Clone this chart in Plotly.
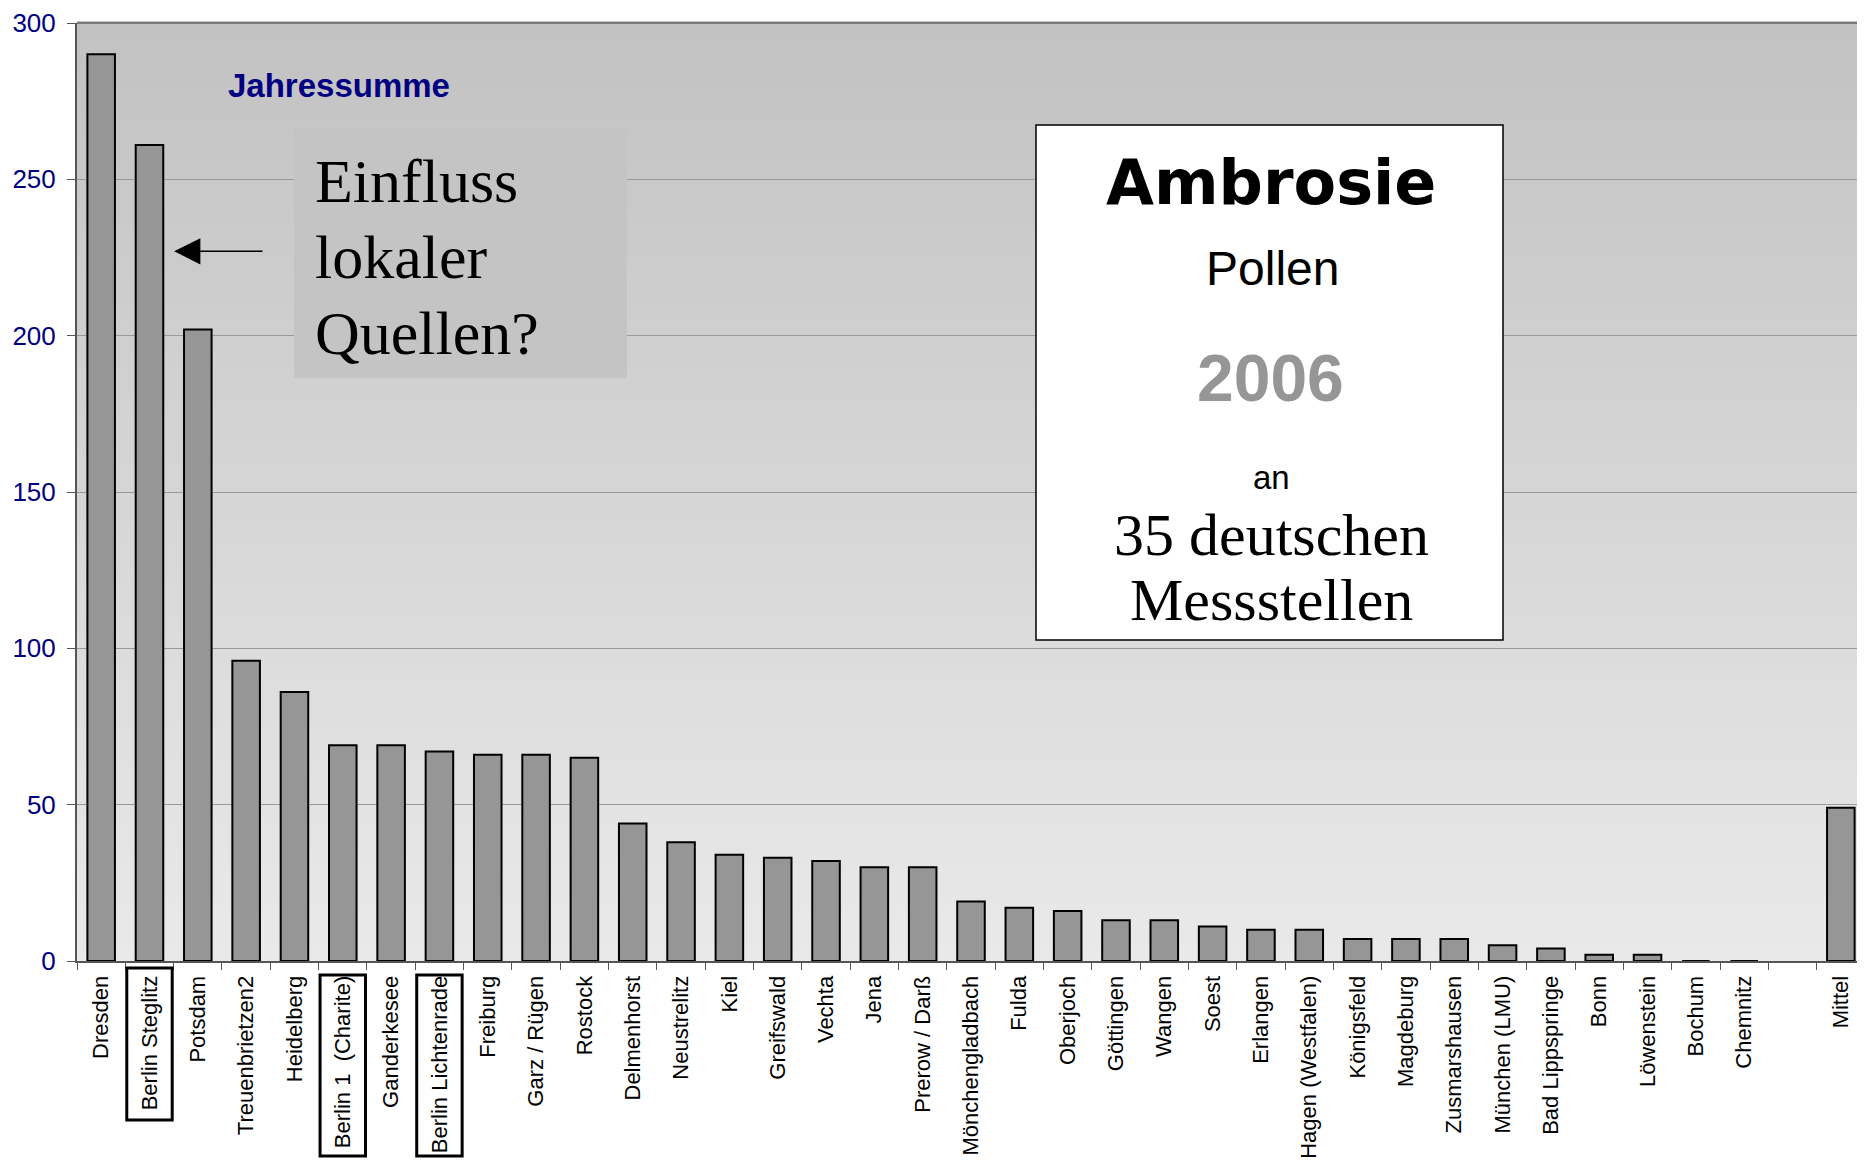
import plotly.graph_objects as go

# ── Data: annual Ambrosia pollen sums 2006 per station ──────────────
stations = [
    "Dresden", "Berlin Steglitz", "Potsdam", "Treuenbrietzen2", "Heidelberg",
    "Berlin 1\u00a0\u00a0(Charite)", "Ganderkesee", "Berlin Lichtenrade", "Freiburg",
    "Garz / Rügen", "Rostock", "Delmenhorst", "Neustrelitz", "Kiel", "Greifswald",
    "Vechta", "Jena", "Prerow / Darß", "Mönchengladbach", "Fulda", "Oberjoch",
    "Göttingen", "Wangen", "Soest", "Erlangen", "Hagen (Westfalen)", "Königsfeld",
    "Magdeburg", "Zusmarshausen", "München (LMU)", "Bad Lippspringe", "Bonn",
    "Löwenstein", "Bochum", "Chemnitz", " ", "Mittel",
]
pollen_sum = [
    290, 261, 202, 96, 86,
    69, 69, 67, 66,
    66, 65, 44, 38, 34, 33,
    32, 30, 30, 19, 17, 16,
    13, 13, 11, 10, 10, 7,
    7, 7, 5, 4, 2,
    2, 0, 0, None, 49,
]
highlighted = ["Berlin Steglitz", "Berlin 1\u00a0\u00a0(Charite)", "Berlin Lichtenrade"]
y_ticks = [0, 50, 100, 150, 200, 250, 300]

NAVY = "#000080"
BAR_GREY = "#969696"
ARIAL = "Arial, Liberation Sans"
SERIF = "Times New Roman, Liberation Serif"

# plot area in page pixels (page has an 8px body margin)
PX0, PW, PY0, PH = 77, 1788, 23, 938


def px(x):
    return (x - PX0) / PW


def py(y):
    return (PY0 + PH - y) / PH


fig = go.Figure()
fig.add_trace(go.Bar(
    x=stations,
    y=pollen_sum,
    marker=dict(color=BAR_GREY, line=dict(color="black", width=2)),
    showlegend=False,
))

shapes = []

# background gradient (darker grey at top -> light grey at bottom)
n_bands = 60
top_rgb, bot_rgb = (194, 194, 194), (233, 233, 233)
for i in range(n_bands):
    t = i / (n_bands - 1)
    c = [round(bot_rgb[k] + (top_rgb[k] - bot_rgb[k]) * t) for k in range(3)]
    shapes.append(dict(
        type="rect", xref="paper", yref="paper", layer="below",
        x0=0, x1=1, y0=i / n_bands, y1=(i + 1) / n_bands + 0.002,
        fillcolor=f"rgb({c[0]},{c[1]},{c[2]})", line=dict(width=0),
    ))

# top border of the plot area
shapes.append(dict(type="line", xref="paper", yref="paper", layer="above",
                   x0=0, x1=1, y0=1, y1=1, line=dict(color="#7a7a7a", width=2)))

# grey note box
shapes.append(dict(
    type="rect", xref="paper", yref="paper", layer="above",
    x0=px(294), x1=px(627), y0=py(378), y1=py(128),
    fillcolor="#c4c4c4", line=dict(width=0),
))

# white title box
shapes.append(dict(
    type="rect", xref="paper", yref="paper", layer="above",
    x0=px(1036), x1=px(1503), y0=py(640), y1=py(125),
    fillcolor="white", line=dict(color="black", width=1.5),
))

# frames round the Berlin labels
for name in highlighted:
    i = stations.index(name)
    top, bottom = (968, 1120) if name == "Berlin Steglitz" else (975, 1156)
    shapes.append(dict(
        type="rect", xref="x", yref="paper", layer="above",
        x0=i - 0.47, x1=i + 0.47, y0=py(bottom), y1=py(top),
        fillcolor="rgba(0,0,0,0)", line=dict(color="black", width=3),
    ))


def label(text, x, y, family, size, color="black", xanchor="center"):
    return dict(text=text, xref="paper", yref="paper", x=px(x), y=py(y),
                xanchor=xanchor, yanchor="middle", showarrow=False,
                font=dict(family=family, size=size, color=color))


annotations = [
    label("<b>Jahressumme</b>", 339, 86, ARIAL, 33, NAVY),
    label("Einfluss", 313, 181, SERIF, 62, xanchor="left"),
    label("lokaler", 313, 257, SERIF, 62, xanchor="left"),
    label("Quellen?", 313, 333, SERIF, 62, xanchor="left"),
    dict(text="", x=1.51, y=227, ax=3.37, ay=227, axref="x", ayref="y",
         xref="x", yref="y", showarrow=True, arrowhead=2, arrowsize=3.5,
         arrowwidth=1.5, arrowcolor="black"),
    label("<b>Ambrosie</b>", 1271, 182, "Comic Sans MS, DejaVu Sans", 62),
    label("Pollen", 1272, 269, ARIAL, 48),
    label("<b>2006</b>", 1270, 378, ARIAL, 66, BAR_GREY),
    label("an", 1271, 478, ARIAL, 33),
    label("35 deutschen", 1271, 535, "Georgia, Liberation Serif", 60),
    label("Messstellen", 1271, 600, "Georgia, Liberation Serif", 60),
]

fig.update_layout(
    width=1857,
    height=1152,
    margin=dict(l=69, r=0, t=15, b=199, autoexpand=False),
    paper_bgcolor="white",
    plot_bgcolor="#d6d6d6",
    bargap=0.43,
    shapes=shapes,
    annotations=annotations,
    xaxis=dict(
        categoryorder="array", categoryarray=stations,
        range=[-0.5, len(stations) - 0.5], automargin=False,
        tickangle=-90, ticks="outside", tickson="boundaries", ticklen=7,
        tickcolor="#555", showline=True, linecolor="#555", linewidth=2,
        showgrid=False, ticklabelstandoff=4,
        tickfont=dict(family=ARIAL, size=22, color="black"),
    ),
    yaxis=dict(
        range=[0, 300], tickvals=y_ticks, ticks="outside", ticklen=8,
        automargin=False, ticklabeloverflow="allow", ticklabelstandoff=6,
        tickcolor="#555", showline=True, linecolor="#555", linewidth=2,
        showgrid=True, gridcolor="#9a9a9a", gridwidth=1, zeroline=False,
        tickfont=dict(family=ARIAL, size=26, color=NAVY),
    ),
)

fig.write_html("out.html")
